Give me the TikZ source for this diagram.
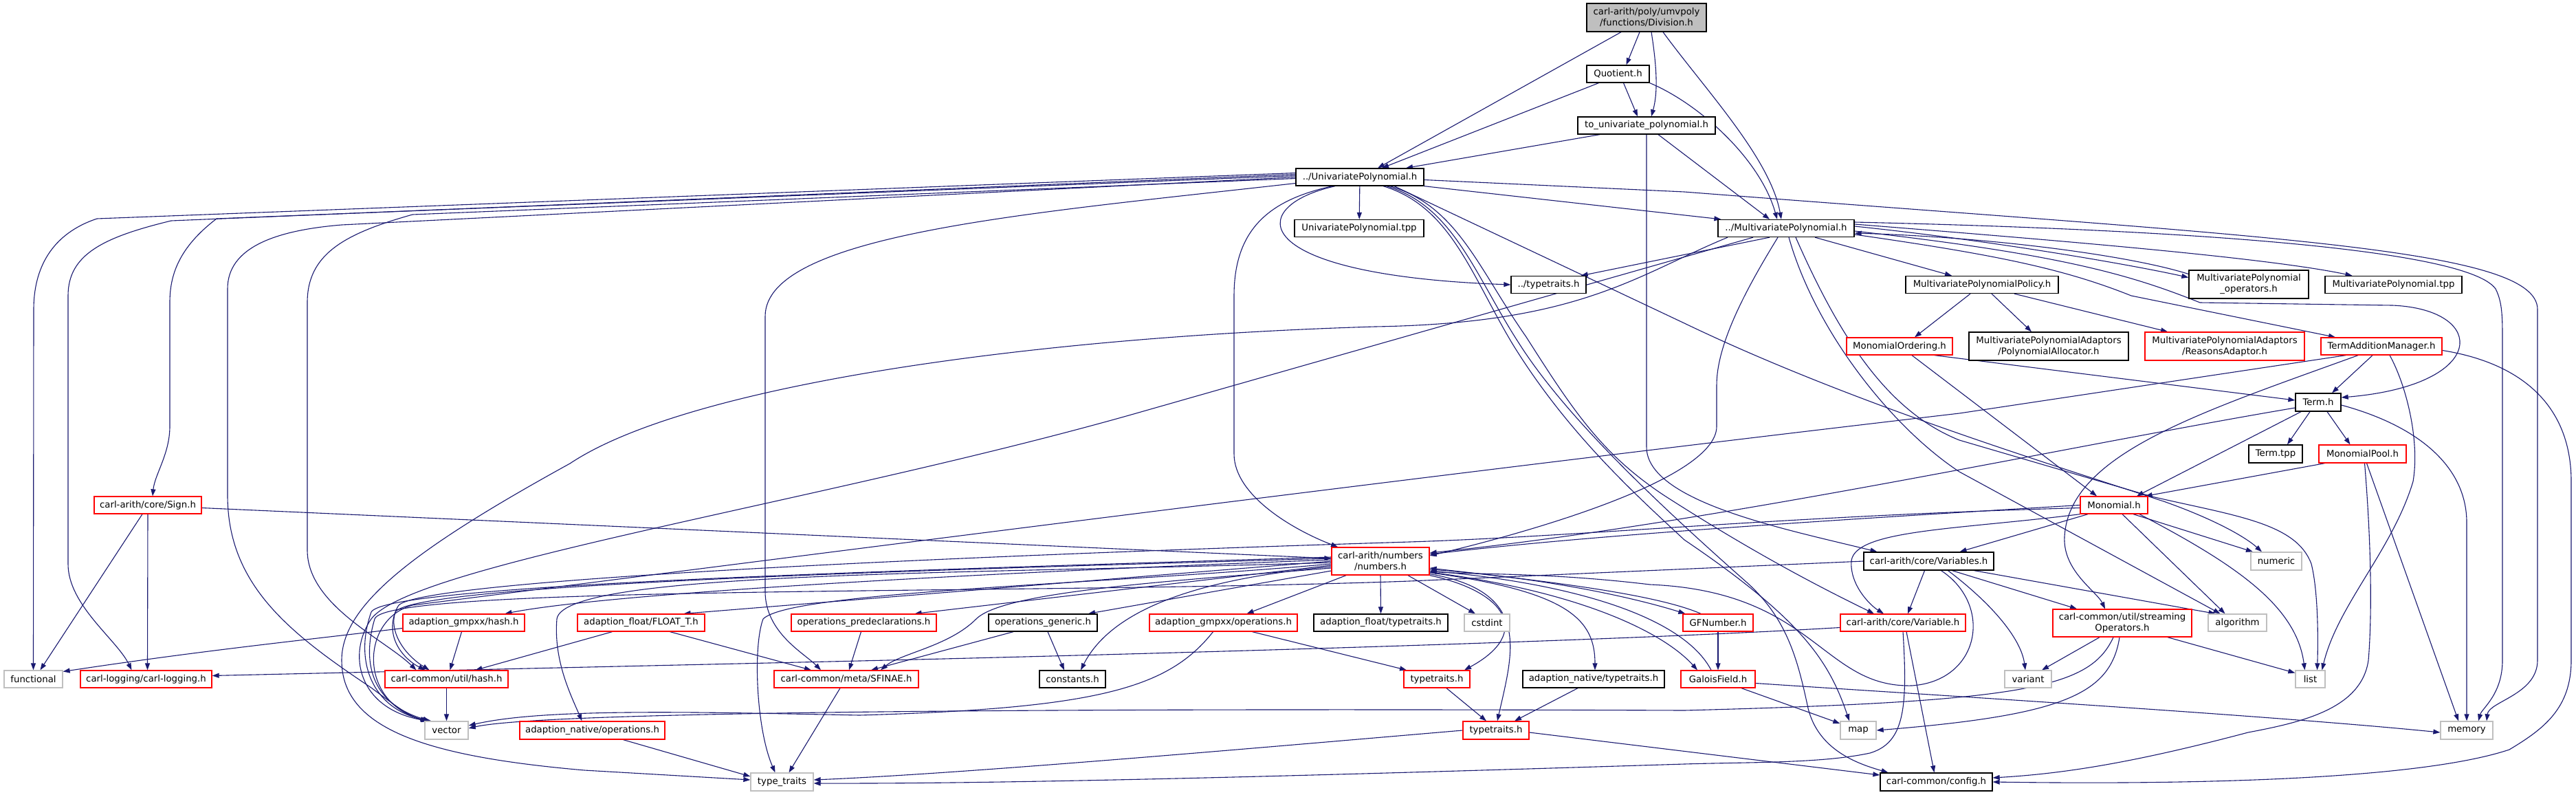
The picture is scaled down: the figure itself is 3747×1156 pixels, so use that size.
\documentclass[tikz,border=0pt]{standalone}
\usepackage{fontspec}
\setmainfont{DejaVu Sans}
\usetikzlibrary{arrows.meta,backgrounds}
\definecolor{edgec}{HTML}{191970}
\definecolor{gry}{HTML}{BFBFBF}
\begin{document}
\begin{tikzpicture}[x=1pt,y=-1pt,
  box/.style={fill=white,line width=1.3pt,inner sep=0pt,align=center,text=black,font=\fontsize{13.3}{16}\selectfont},
  nb/.style={box,draw=black},
  nr/.style={box,draw=red},
  ng/.style={box,draw=gry},
  rootst/.style={box,draw=black,fill=gry},
  e/.style={draw=edgec,line width=1.1pt,-{Triangle[length=10pt,width=7pt]}}]
\newcommand{\nd}[7]{\node[#6, minimum width=#4pt, minimum height=#5pt] (#1) at (#2,#3) {#7};}
\useasboundingbox (0,0) rectangle (3747,1156);
\nd{root}{2395}{25.5}{174}{41}{rootst}{carl-arith/poly/umvpoly\\/functions/Division.h}
\nd{quot}{2353.5}{107.5}{91}{25}{nb}{Quotient.h}
\nd{touni}{2395}{182.5}{200}{25}{nb}{to\_univariate\_polynomial.h}
\nd{univ}{1978}{257.5}{186}{25}{nb}{../UnivariatePolynomial.h}
\nd{univtpp}{1977}{332}{188}{25}{nb}{UnivariatePolynomial.tpp}
\nd{ddtt}{2252.5}{414}{109}{25}{nb}{../typetraits.h}
\nd{multi}{2598}{332}{198}{25}{nb}{../MultivariatePolynomial.h}
\nd{policy}{2883}{414}{222}{25}{nb}{MultivariatePolynomialPolicy.h}
\nd{ops}{3271}{413.5}{174}{41}{nb}{MultivariatePolynomial\\\_operators.h}
\nd{mtpp}{3481.5}{414}{199}{25}{nb}{MultivariatePolynomial.tpp}
\nd{monord}{2763}{503.5}{154}{25}{nr}{MonomialOrdering.h}
\nd{alloc}{2980}{503.5}{232}{41}{nb}{MultivariatePolynomialAdaptors\\/PolynomialAllocator.h}
\nd{reasons}{3236}{503.5}{232}{41}{nr}{MultivariatePolynomialAdaptors\\/ReasonsAdaptor.h}
\nd{tam}{3464}{503.5}{176}{25}{nr}{TermAdditionManager.h}
\nd{term}{3372}{585}{66}{26}{nb}{Term.h}
\nd{termtpp}{3310}{660}{78}{26}{nb}{Term.tpp}
\nd{mpool}{3436.5}{660}{127}{26}{nr}{MonomialPool.h}
\nd{monomial}{3075}{734.5}{98}{25}{nr}{Monomial.h}
\nd{variables}{2805.5}{816}{189}{26}{nb}{carl-arith/core/Variables.h}
\nd{numeric}{3311}{816}{74}{26}{ng}{numeric}
\nd{variable}{2768}{905.5}{182}{25}{nr}{carl-arith/core/Variable.h}
\nd{streaming}{3087}{906}{202}{40}{nr}{carl-common/util/streaming\\Operators.h}
\nd{algorithm}{3254.5}{905.5}{85}{25}{ng}{algorithm}
\nd{gfnumber}{2499}{905.5}{102}{25}{nr}{GFNumber.h}
\nd{galois}{2499}{987.5}{108}{25}{nr}{GaloisField.h}
\nd{variant}{2950}{987.5}{68}{25}{ng}{variant}
\nd{list}{3360.5}{987.5}{43}{25}{ng}{list}
\nd{map}{2703}{1062}{52}{26}{ng}{map}
\nd{memory}{3588}{1062}{76}{26}{ng}{memory}
\nd{config}{2816.5}{1137}{163}{26}{nb}{carl-common/config.h}
\nd{numbers}{2008}{816}{142}{40}{nr}{carl-arith/numbers\\/numbers.h}
\nd{opspre}{1256.5}{905.5}{211}{25}{nr}{operations\_predeclarations.h}
\nd{opsgen}{1517}{905.5}{158}{25}{nb}{operations\_generic.h}
\nd{gmpops}{1779.5}{905.5}{215}{25}{nr}{adaption\_gmpxx/operations.h}
\nd{floattt}{2008.5}{905.5}{195}{25}{nb}{adaption\_float/typetraits.h}
\nd{cstdint}{2163}{905.5}{66}{25}{ng}{cstdint}
\nd{sfinae}{1231}{987.5}{210}{25}{nr}{carl-common/meta/SFINAE.h}
\nd{constants}{1560}{987.5}{96}{25}{nb}{constants.h}
\nd{tt1}{2090}{987.5}{96}{25}{nr}{typetraits.h}
\nd{nativett}{2318}{987.5}{206}{25}{nb}{adaption\_native/typetraits.h}
\nd{tt2}{2176}{1062}{96}{26}{nr}{typetraits.h}
\nd{sign}{215}{734.5}{156}{25}{nr}{carl-arith/core/Sign.h}
\nd{gmphash}{674.5}{905.5}{177}{25}{nr}{adaption\_gmpxx/hash.h}
\nd{floatT}{932.5}{905.5}{185}{25}{nr}{adaption\_float/FLOAT\_T.h}
\nd{functional}{48.5}{987.5}{85}{25}{ng}{functional}
\nd{logging}{212.5}{987.5}{191}{25}{nr}{carl-logging/carl-logging.h}
\nd{utilhash}{649.5}{987.5}{179}{25}{nr}{carl-common/util/hash.h}
\nd{vector}{649.5}{1062}{63}{26}{ng}{vector}
\nd{nativeops}{861.5}{1062}{211}{26}{nr}{adaption\_native/operations.h}
\nd{tstd}{1137.5}{1137}{91}{26}{ng}{type\_traits}
\begin{pgfonlayer}{background}
\fill[white] (0,0) rectangle (3747,1156);
% top
\draw[e] ([xshift=-37pt]root.south) -- ([xshift=26pt]univ.north);
\draw[e] ([xshift=-10pt]root.south) -- ([xshift=12pt]quot.north);
\draw[e] ([xshift=7pt]root.south) .. controls (2412,110) and (2410,140) .. ([xshift=7pt]touni.north);
\draw[e] ([xshift=24pt]root.south) .. controls (2480,130) and (2575,230) .. ([xshift=-7pt]multi.north);
\draw[e] ([xshift=-28pt]quot.south) -- ([xshift=32pt]univ.north);
\draw[e] ([xshift=8pt]quot.south) -- ([xshift=-13pt]touni.north);
\draw[e] (quot.south east) .. controls (2470,150) and (2560,230) .. ([xshift=-13pt]multi.north);
\draw[e] ([xshift=-68pt]touni.south) -- ([xshift=67pt]univ.north);
\draw[e] ([xshift=17pt]touni.south) -- ([xshift=-24pt]multi.north);
\draw[e] (touni.south) -- (2395,650) .. controls (2395,730) and (2600,770) .. ([xshift=-75pt]variables.north);
% univariate
\draw[e] (univ) -- (univtpp);
\draw[e] ([xshift=-36pt]univ.south) .. controls (1810,300) and (1810,400) .. (ddtt.west);
\draw[e] (univ.south east) -- ([xshift=5pt]multi.north west);
\draw[e] ([yshift=-4pt]univ.east) -- (2450,279) .. controls (3300,345) and (3691,360) .. (3691,450) -- (3691,960) .. controls (3691,1010) and (3620,1020) .. ([xshift=29pt]memory.north);
\draw[e] ([yshift=6pt]univ.west) -- (141,318) .. controls (75,340) and (49,390) .. (49,450) -- (functional.north);
\draw[e] ([yshift=4pt]univ.west) -- (249,321) .. controls (150,345) and (99,370) .. (99,430) -- (99,820) .. controls (99,880) and (170,930) .. ([xshift=-21pt]logging.north);
\draw[e] ([yshift=2pt]univ.west) -- (315,318) .. controls (260,360) and (247,400) .. (247,440) -- (247,620) .. controls (247,660) and (225,690) .. ([xshift=7pt]sign.north);
\draw[e] ([yshift=0pt]univ.west) -- (497,327) .. controls (400,335) and (331,360) .. (331,420) -- (331,720) .. controls (331,850) and (420,920) .. (540,1000) .. controls (580,1030) and (600,1045) .. ([xshift=-22pt]vector.north);
\draw[e] ([yshift=-2pt]univ.west) -- (600,312) .. controls (500,340) and (447,370) .. (447,440) -- (447,800) .. controls (447,880) and (560,930) .. ([xshift=-44pt]utilhash.north);
\draw[e] ([yshift=-9pt]univ.west) .. controls (1500,310) and (1113,340) .. (1113,460) -- (1113,860) .. controls (1113,920) and (1170,950) .. ([xshift=-37pt]sfinae.north);
\draw[e] ([xshift=-40pt]univ.south) .. controls (1850,290) and (1795,330) .. (1795,430) -- (1795,660) .. controls (1795,720) and (1880,770) .. ([xshift=-62pt]numbers.north);
\draw[e] ([xshift=34pt]univ.south) .. controls (2110,300) and (2140,400) .. (2200,500) .. controls (2280,630) and (2380,720) .. (2450,785) .. controls (2620,900) and (2660,960) .. ([xshift=-13pt]map.north);
\draw[e] ([xshift=39pt]univ.south) .. controls (2115,300) and (2145,400) .. (2210,500) .. controls (2280,610) and (2420,740) .. (2541,847) .. controls (2600,900) and (2615,960) .. (2630,1030) .. controls (2645,1090) and (2700,1110) .. ([xshift=-70pt]config.north);
\draw[e] ([xshift=44pt]univ.south) .. controls (2120,300) and (2150,390) .. (2220,490) .. controls (2290,600) and (2330,660) .. (2420,720) .. controls (2560,810) and (2660,860) .. ([xshift=-42pt]variable.north);
\draw[e] ([xshift=50pt]univ.south) -- (2450,470) .. controls (2700,590) and (3000,680) .. (3150,730) .. controls (3220,755) and (3265,780) .. ([xshift=-21pt]numeric.north);
% multivariate
\draw[e] ([xshift=-24pt]multi.south) -- ([xshift=-8pt]ddtt.north east);
\draw[e] ([xshift=-85pt]multi.south) .. controls (2380,400) and (2300,470) .. (2000,475) .. controls (1500,490) and (1000,560) .. (829,674) .. controls (600,800) and (497,880) .. (497,960) .. controls (497,1060) and (620,1100) .. (850,1120) -- ([yshift=3pt]tstd.west);
\draw[e] ([xshift=-48pt]multi.south) -- (1656,600) .. controls (1200,730) and (600,820) .. (540,900) .. controls (505,950) and (520,1030) .. ([xshift=-27pt]vector.north);
\draw[e] ([xshift=-12pt]multi.south) .. controls (2540,420) and (2497,500) .. (2497,560) -- (2497,620) .. controls (2497,700) and (2200,780) .. ([yshift=8pt]numbers.east);
\draw[e] ([xshift=4pt]multi.south) .. controls (2640,480) and (2750,620) .. (2850,686) -- ([xshift=-25pt]algorithm.north);
\draw[e] ([xshift=14pt]multi.south) .. controls (2680,500) and (2750,600) .. (2850,640) -- (3130,722) .. controls (3250,750) and (3340,760) .. (3362,820) .. controls (3372,860) and (3372,930) .. ([xshift=10pt]list.north);
\draw[e] ([xshift=42pt]multi.south) -- ([xshift=-44pt]policy.north);
\draw[e] ([yshift=3pt]multi.east) .. controls (2900,350) and (3100,385) .. ([yshift=10pt]ops.west);
\draw[e] ([yshift=15pt]ops.west) .. controls (3100,372) and (2900,345) .. ([yshift=-7pt]multi.east);
\draw[e] ([yshift=6pt]multi.east) .. controls (3000,350) and (3300,375) .. ([xshift=-60pt]mtpp.north);
\draw[e] ([yshift=-9pt]multi.east) .. controls (2900,370) and (3000,390) .. (3100,430) -- ([xshift=-67pt]tam.north);
\draw[e] ([yshift=-4pt]multi.east) .. controls (3000,370) and (3100,400) .. (3200,440) -- (3480,444) .. controls (3620,450) and (3620,560) .. ([yshift=7pt]term.east);
\draw[e] ([yshift=9pt]multi.east) .. controls (3000,330) and (3580,350) .. (3630,420) .. controls (3640,440) and (3640,460) .. (3640,500) -- (3640,960) .. controls (3640,1010) and (3610,1030) .. ([xshift=17pt]memory.north);
% policy
\draw[e] ([xshift=-17pt]policy.south) -- ([xshift=22pt]monord.north);
\draw[e] ([xshift=14pt]policy.south) -- ([xshift=-25pt]alloc.north);
\draw[e] ([xshift=47pt]policy.south) -- ([xshift=-83pt]reasons.north);
% monomial ordering
\draw[e] ([xshift=18pt]monord.south) -- ([xshift=-25pt]monomial.north);
\draw[e] ([xshift=51pt]monord.south) -- ([yshift=3pt]term.west);
% term addition manager
\draw[e] ([xshift=-13pt]tam.south) -- ([xshift=20pt]term.north);
\draw[e] ([xshift=12pt]tam.south) .. controls (3500,560) and (3520,640) .. (3510,700) .. controls (3480,800) and (3400,880) .. ([xshift=17pt]list.north);
\draw[e] ([xshift=-34pt]tam.south) .. controls (3200,600) and (3010,660) .. (3003,780) .. controls (3000,830) and (3050,860) .. ([xshift=-25pt]streaming.north);
\draw[e] ([yshift=-6pt]tam.east) .. controls (3680,530) and (3740,600) .. (3740,700) -- (3740,960) .. controls (3740,1030) and (3700,1060) .. (3650,1090) .. controls (3500,1140) and (3100,1140) .. (config.east);
\draw[e] ([xshift=-52pt]tam.south) -- (2850,601) .. controls (2000,700) and (1000,830) .. (600,880) .. controls (525,900) and (520,1020) .. ([xshift=-28pt]vector.north);
% term
\draw[e] ([xshift=-12pt]term.south) -- ([xshift=17pt]termtpp.north);
\draw[e] ([xshift=13pt]term.south) -- ([xshift=-18pt]mpool.north);
\draw[e] ([xshift=-25pt]term.south) -- ([xshift=33pt]monomial.north);
\draw[e] ([yshift=-8pt]term.west) .. controls (3000,650) and (2500,760) .. ([yshift=12pt]numbers.east);
\draw[e] ([yshift=-4pt]term.east) .. controls (3520,620) and (3588,680) .. (3588,760) -- (memory.north);
% monomial pool
\draw[e] ([xshift=-55pt]mpool.south) -- ([xshift=-4pt]monomial.north east);
\draw[e] ([xshift=6pt]mpool.south) -- ([xshift=-12pt]memory.north);
\draw[e] ([xshift=3pt]mpool.south) .. controls (3450,800) and (3450,900) .. (3445,960) .. controls (3435,1030) and (3350,1050) .. (3270,1065) .. controls (3100,1110) and (3000,1125) .. ([yshift=6pt]config.east);
% monomial
\draw[e] ([xshift=-38pt]monomial.south) -- ([xshift=45pt]variables.north);
\draw[e] (monomial.south west) .. controls (2850,770) and (2700,770) .. (2693,815) .. controls (2690,850) and (2720,880) .. ([xshift=-28pt]variable.north);
\draw[e] ([xshift=28pt]monomial.south) -- ([xshift=-34pt]numeric.north);
\draw[e] ([xshift=12pt]monomial.south) -- ([xshift=-18pt]algorithm.north);
\draw[e] ([xshift=37pt]monomial.south) .. controls (3250,820) and (3340,880) .. ([xshift=-8pt]list.north);
\draw[e] (monomial.west) .. controls (2600,760) and (2300,780) .. ([yshift=10pt]numbers.east);
\draw[e] ([yshift=-4pt]monomial.west) .. controls (2600,750) and (2300,780) .. (2050,788) .. controls (1500,805) and (620,840) .. (580,880) .. controls (560,910) and (585,950) .. ([xshift=-25pt]utilhash.north);
% variables
\draw[e] (variables.west) -- (2050,845) .. controls (1500,865) and (560,850) .. (545,900) .. controls (530,950) and (530,1020) .. ([xshift=-24pt]vector.north);
\draw[e] ([xshift=-6pt]variables.south) -- ([xshift=7pt]variable.north);
\draw[e] ([xshift=34pt]variables.south) -- ([xshift=-66pt]streaming.north);
\draw[e] ([xshift=66pt]variables.south) -- ([xshift=-32pt]algorithm.north);
\draw[e] ([xshift=28pt]variables.south) .. controls (2900,880) and (2940,930) .. ([xshift=-4pt]variant.north);
\draw[e] ([xshift=18pt]variables.south) .. controls (2900,880) and (2880,990) .. (2781,997) .. controls (2650,1000) and (2640,860) .. (2400,850) .. controls (2250,832) and (2150,836) .. ([yshift=-15pt]numbers.east);
% variable
\draw[e] ([xshift=5pt]variable.south) -- ([xshift=-3pt]config.north);
\draw[e] (variable.south) .. controls (2775,1030) and (2770,1080) .. (2720,1095) .. controls (2650,1110) and (2550,1108) .. (2450,1111) .. controls (2000,1125) and (1500,1140) .. ([yshift=-2pt]tstd.east);
\draw[e] ([yshift=-7pt]variable.west) .. controls (2300,935) and (1500,955) .. (1250,961) -- ([yshift=5pt]logging.east);
% streaming
\draw[e] ([xshift=-33pt]streaming.south) -- ([xshift=20pt]variant.north);
\draw[e] ([xshift=66pt]streaming.south) -- ([yshift=9pt]list.west);
\draw[e] ([xshift=-4pt]streaming.south) .. controls (3070,1010) and (3000,1040) .. (map.east);
\draw[e] ([xshift=-13pt]streaming.south) .. controls (3040,1000) and (2950,1020) .. (2450,1033) .. controls (1700,1030) and (800,1032) .. ([yshift=3pt]vector.east);
% numbers
\draw[e] ([yshift=-6pt]numbers.west) -- ([xshift=74pt]opspre.north);
\draw[e] ([yshift=-14pt]numbers.west) -- ([xshift=66pt]opsgen.north);
\draw[e] ([xshift=-50pt]numbers.south) -- ([xshift=34pt]gmpops.north);
\draw[e] (numbers.south) -- (floattt.north);
\draw[e] ([xshift=40pt]numbers.south) -- ([xshift=-17pt]cstdint.north);
\draw[e] ([yshift=-8pt]numbers.west) .. controls (1760,840) and (1620,880) .. ([xshift=12pt]constants.north);
\draw[e] ([yshift=-10pt]numbers.west) .. controls (1700,845) and (1460,860) .. (1420,900) .. controls (1380,940) and (1310,950) .. ([xshift=50pt]sfinae.north);
\draw[e] (numbers.south east) .. controls (2190,860) and (2230,920) .. ([xshift=40pt]tt1.north);
\draw[e] ([yshift=2pt]numbers.south east) .. controls (2230,860) and (2200,950) .. ([xshift=2pt]tt2.north);
\draw[e] ([yshift=4pt]numbers.south east) .. controls (2280,860) and (2320,900) .. ([xshift=2pt]nativett.north);
\draw[e] ([yshift=-12pt]numbers.east) .. controls (2250,840) and (2380,870) .. ([xshift=4pt]gfnumber.north west);
\draw[e] ([xshift=-25pt]gfnumber.north) .. controls (2400,860) and (2200,840) .. ([yshift=-10pt]numbers.east);
\draw[e] ([yshift=-16pt]numbers.east) .. controls (2300,860) and (2420,920) .. ([xshift=-30pt]galois.north);
\draw[e] ([xshift=-10pt]galois.north) .. controls (2450,900) and (2300,850) .. ([yshift=-14pt]numbers.east);
\draw[e] ([yshift=-2pt]numbers.west) .. controls (1400,835) and (820,830) .. (810,900) .. controls (805,960) and (830,1010) .. ([xshift=-15pt]nativeops.north);
\draw[e] ([yshift=2pt]numbers.west) .. controls (1500,830) and (900,860) .. ([xshift=60pt]gmphash.north);
\draw[e] (numbers.west) -- ([xshift=62pt]floatT.north);
\draw[e] ([yshift=4pt]numbers.west) .. controls (1300,830) and (600,850) .. (575,890) .. controls (560,930) and (590,960) .. ([xshift=-31pt]utilhash.north);
\draw[e] ([yshift=6pt]numbers.west) .. controls (1300,830) and (560,850) .. (540,890) .. controls (515,960) and (540,1030) .. ([xshift=-25pt]vector.north);
\draw[e] ([yshift=-4pt]numbers.west) .. controls (1600,850) and (1150,860) .. (1110,900) .. controls (1095,940) and (1100,1060) .. ([xshift=-10pt]tstd.north);
% lower left
\draw[e] ([xshift=-8pt]sign.south) -- ([xshift=10pt]functional.north);
\draw[e] (sign.south) -- ([xshift=2pt]logging.north);
\draw[e] ([yshift=-4pt]sign.east) -- ([yshift=4pt]numbers.west);
\draw[e] ([yshift=-8pt]gmphash.west) .. controls (450,930) and (300,945) .. ([yshift=11pt]functional.east);
\draw[e] ([xshift=-3pt]gmphash.south) -- ([xshift=5pt]utilhash.north);
\draw[e] ([xshift=-42pt]floatT.south) -- ([xshift=42pt]utilhash.north);
\draw[e] ([xshift=42pt]floatT.south) -- ([xshift=-51pt]sfinae.north);
\draw[e] (utilhash) -- (vector);
\draw[e] ([xshift=45pt]nativeops.south) -- ([yshift=8pt]tstd.west);
\draw[e] ([xshift=-4pt]opspre.south) -- ([xshift=4pt]sfinae.north);
\draw[e] ([xshift=-43pt]opsgen.south) -- ([xshift=36pt]sfinae.north);
\draw[e] ([xshift=7pt]opsgen.south) -- ([xshift=-12pt]constants.north);
\draw[e] ([xshift=42pt]gmpops.south) -- ([xshift=-44pt]tt1.north);
\draw[e] ([xshift=-15pt]gmpops.south) .. controls (1700,1000) and (1600,1030) .. (1250,1040) .. controls (1000,1035) and (790,1030) .. ([yshift=7pt]vector.east);
\draw[e] ([xshift=-9pt]sfinae.south) -- ([xshift=10pt]tstd.north);
\draw[e] ([xshift=14pt]tt1.south) -- ([xshift=-14pt]tt2.north);
\draw[e] ([xshift=-23pt]nativett.south) -- ([xshift=27pt]tt2.north);
\draw[e] (tt2.west) .. controls (1800,1090) and (1400,1125) .. ([yshift=3pt]tstd.east);
\draw[e] ([yshift=-3pt]tt2.east) -- ([yshift=10pt]config.west);
\draw[e] (gfnumber) -- (galois);
\draw[e] ([xshift=34pt]galois.south) -- ([yshift=10pt]map.west);
\draw[e] ([yshift=-6pt]galois.east) .. controls (2800,1010) and (3300,1040) .. ([yshift=-3pt]memory.west);
\end{pgfonlayer}
\end{tikzpicture}
\end{document}
